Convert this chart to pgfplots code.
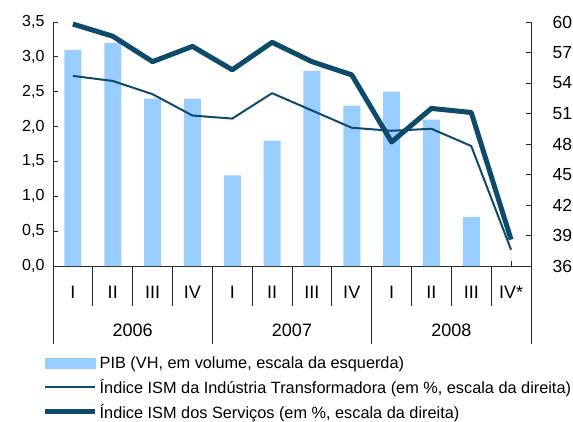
\documentclass[border=0pt]{standalone}
\usepackage{fontspec}
\setmainfont{Liberation Sans}
\usepackage{pgfplots}
\pgfplotsset{compat=1.18}
\definecolor{barblue}{HTML}{99CCFF}
\definecolor{linedark}{RGB}{14,74,106}
\definecolor{axgray}{RGB}{40,40,40}
\pgfplotsset{
  barleg/.style={legend image code/.code={\fill[barblue] (0pt,-5pt) rectangle (50pt,5pt);}},
  lineleg/.style={legend image code/.code={\draw[##1] (0pt,0pt) -- (50pt,0pt);}},
}
\begin{document}
\begin{tikzpicture}
\useasboundingbox (-53pt,-155pt) rectangle (520pt,266pt);
\begin{axis}[
  at={(0,0)}, anchor=south west, scale only axis,
  width=478pt, height=244pt,
  xmin=-0.5, xmax=11.5, ymin=0, ymax=3.5,
  axis y line*=left, axis x line*=bottom,
  axis line style={axgray, line width=0.8pt},
  every tick/.style={axgray, line width=0.8pt},
  tick align=inside, major tick length=5pt,
  ytick={0,0.5,...,3.5},
  /pgf/number format/.cd, use comma, fixed, fixed zerofill, precision=1, assume math mode=true,
  /pgfplots/.cd,
  yticklabel style={font=\fontsize{16}{19}\selectfont, xshift=-5pt},
  xtick={0,...,11},
  xticklabels={I,II,III,IV,I,II,III,IV,I,II,III,IV*},
  xticklabel style={font=\fontsize{18}{21}\selectfont, anchor=base, yshift=-32pt},
  clip=false,
]
\addplot[ybar, bar width=17pt, fill=barblue, draw=none] coordinates {
  (0,3.1) (1,3.2) (2,2.4) (3,2.4) (4,1.3) (5,1.8) (6,2.8) (7,2.3) (8,2.5) (9,2.1) (10,0.7)
};
\pgfplotsinvokeforeach{-0.5,0.5,1.5,2.5,3.5,4.5,5.5,6.5,7.5,8.5,9.5,10.5,11.5}{
  \draw[axgray, line width=0.8pt] (axis cs:#1,0) -- ([yshift=-40pt]axis cs:#1,0);
}
\pgfplotsinvokeforeach{-0.5,3.5,7.5,11.5}{
  \draw[axgray, line width=0.8pt] (axis cs:#1,0) -- ([yshift=-78pt]axis cs:#1,0);
}
\node[anchor=base, font=\fontsize{18}{21}\selectfont] at ([yshift=-70.6pt]axis cs:1.5,0) {2006};
\node[anchor=base, font=\fontsize{18}{21}\selectfont] at ([yshift=-70.6pt]axis cs:5.5,0) {2007};
\node[anchor=base, font=\fontsize{18}{21}\selectfont] at ([yshift=-70.6pt]axis cs:9.5,0) {2008};
\end{axis}
\begin{axis}[
  at={(0,0)}, anchor=south west, scale only axis,
  width=478pt, height=244pt,
  xmin=-0.5, xmax=11.5, ymin=36, ymax=60,
  axis y line*=right, axis x line=none,
  axis line style={axgray, line width=0.8pt},
  every tick/.style={axgray, line width=0.8pt},
  tick align=inside, major tick length=5pt,
  ytick={36,39,...,60},
  /pgf/number format/assume math mode=true,
  yticklabel style={font=\fontsize{17.5}{20}\selectfont, xshift=18pt},
  clip=false,
  legend style={at={(axis description cs:-0.022,-0.364)}, anchor=north west,
    draw=none, fill=none, inner sep=0pt, row sep=5pt,
    font=\fontsize{16.3}{19}\selectfont},
  legend cell align=left,
]
\addlegendimage{barleg}
\addlegendentry{PIB (VH, em volume, escala da esquerda)}
\addplot[linedark, line width=2pt, line join=round, lineleg] coordinates {
  (0,54.7) (1,54.2) (2,52.9) (3,50.8) (4,50.5) (5,53.0) (6,51.3) (7,49.6) (8,49.3) (9,49.5) (10,47.8) (11,37.6)
};
\addlegendentry{Índice ISM da Indústria Transformadora (em \%, escala da direita)}
\addplot[linedark, line width=5pt, line join=round, lineleg] coordinates {
  (0,59.8) (1,58.6) (2,56.1) (3,57.6) (4,55.3) (5,58.0) (6,56.1) (7,54.8) (8,48.2) (9,51.5) (10,51.1) (11,38.6)
};
\addlegendentry{Índice ISM dos Serviços (em \%, escala da direita)}
\end{axis}
\end{tikzpicture}
\end{document}
